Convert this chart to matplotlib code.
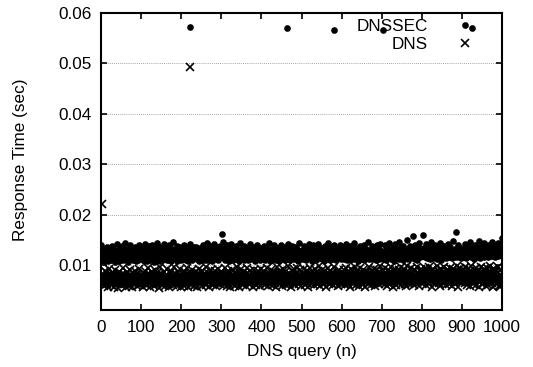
import matplotlib
matplotlib.use('Agg')
import matplotlib.pyplot as plt
import numpy as np

# ----------------------------------------------------
# DATA (response times, in units of 0.1 ms)
# ----------------------------------------------------
dnssec_raw = [
    140,121,115,126,112,118,131,109,123,117,127,113,120,136,111,124,119,108,129,116,122,114,133,118,110,125,120,138,115,121,112,127,117,106,123,130,114,119,141,111,125,118,113,128,120,109,134,116,122,126,112,119,137,115,124,110,121,129,117,113,143,120,126,111,118,132,123,107,116,127,114,121,139,119,112,125,130,117,110,122,128,115,120,135,113,124,118,109,131,121,116,126,111,140,119,123,114,128,117,120,
    118,125,112,133,121,109,127,116,142,120,113,124,119,131,108,122,126,114,137,117,121,111,129,123,115,140,118,112,126,120,107,133,119,124,113,128,116,121,144,110,125,118,130,114,122,117,136,109,127,120,115,123,132,119,112,126,118,141,121,113,128,116,124,110,134,120,117,125,111,139,122,115,127,119,108,131,124,116,120,145,113,126,118,122,130,114,121,117,138,109,125,120,113,128,116,123,135,119,111,126,
    121,115,130,118,124,112,139,120,116,127,110,123,119,133,114,126,121,108,129,117,124,113,142,120,118,125,111,131,122,116,128,119,136,114,121,126,117,136,112,124,119,130,115,122,109,127,118,134,121,113,125,120,116,140,123,111,128,117,122,131,114,126,119,143,110,124,120,115,129,118,137,112,123,121,116,127,109,132,119,125,114,122,141,117,128,113,120,126,118,135,111,123,119,130,115,124,121,138,116,127,
    128,162,119,145,121,114,126,118,133,110,124,120,116,139,122,113,127,119,108,131,125,117,121,142,114,126,120,111,135,118,123,129,115,121,117,138,112,125,119,124,130,116,122,109,127,120,144,113,126,118,121,132,115,124,119,137,111,128,122,116,125,120,134,113,127,118,110,129,123,117,141,121,114,126,119,131,112,124,120,136,116,122,127,109,130,118,125,113,121,139,117,124,120,115,128,111,133,122,118,126,
    119,124,113,130,121,116,138,110,125,120,127,114,122,118,135,112,126,121,117,143,123,109,128,119,124,115,131,120,113,126,118,140,122,116,129,111,124,120,134,117,127,121,114,125,108,132,119,123,116,139,121,113,128,120,125,118,136,111,124,122,115,130,119,127,113,142,120,117,126,122,110,133,118,125,121,116,138,114,123,129,119,112,127,120,135,117,124,121,115,131,109,126,118,122,144,113,128,120,116,125,
    123,117,130,112,126,121,137,115,124,119,128,110,122,133,118,125,114,141,120,127,116,123,119,131,108,126,121,115,139,122,117,128,113,124,120,135,111,127,119,123,116,142,121,114,129,118,125,120,134,112,126,122,117,130,109,124,119,138,115,127,121,113,132,120,125,118,144,116,123,128,111,126,120,136,114,122,119,129,117,125,140,113,121,127,118,133,110,124,120,116,131,122,126,115,139,119,123,112,128,121,
    117,126,120,135,113,124,119,129,115,122,141,118,127,111,125,120,133,116,123,128,110,137,121,119,126,114,130,122,117,143,112,125,120,128,118,134,115,124,121,109,131,126,119,123,138,116,127,113,122,120,136,117,125,129,111,124,140,118,121,126,114,132,119,123,127,116,145,120,113,125,122,130,117,128,119,137,112,124,121,115,129,123,118,134,126,110,122,139,120,116,127,124,113,131,119,125,142,117,121,128,
    124,118,131,113,126,120,139,116,123,127,111,125,134,119,122,115,128,121,143,117,124,112,130,120,126,118,136,114,123,129,109,125,121,141,117,127,119,132,122,115,126,120,146,113,124,128,118,135,121,116,127,110,123,138,119,125,122,131,114,126,120,149,117,124,128,112,133,121,119,125,137,115,122,127,118,130,124,120,158,116,123,126,113,139,121,118,129,125,111,134,122,119,127,144,116,124,120,131,118,126,
    121,127,160,118,125,133,116,124,129,120,142,114,126,122,137,119,128,117,124,131,112,126,121,145,118,123,129,115,134,122,120,127,140,116,125,121,130,113,124,128,119,136,122,117,126,143,120,125,111,131,123,118,128,121,138,116,124,127,120,133,115,126,122,129,119,141,124,117,127,121,135,118,125,130,114,123,128,120,147,117,126,122,131,119,124,165,121,128,116,125,139,120,127,122,133,118,126,129,115,124,
    126,120,131,117,128,123,142,119,125,129,114,127,122,136,120,126,118,132,124,121,145,116,128,125,119,134,122,127,113,130,124,120,139,117,126,129,121,135,118,125,123,148,120,127,115,131,124,122,137,119,128,126,121,143,117,125,130,120,127,133,118,124,129,122,140,116,126,128,121,135,119,125,131,123,146,118,127,124,120,138,122,129,117,126,133,121,128,125,144,119,127,130,123,137,120,126,132,124,141,153,
]

dns_raw = [
    74,69,71,78,65,81,72,58,76,70,88,67,73,79,63,84,71,56,75,68,93,72,66,80,74,61,77,70,85,64,73,57,79,69,75,90,67,72,82,63,76,71,55,74,68,87,73,65,78,70,60,83,72,67,95,74,69,77,62,80,71,56,75,68,86,73,64,79,70,58,76,72,91,66,74,81,69,57,77,71,84,63,75,68,89,72,65,78,70,59,82,74,67,76,92,61,73,79,69,75,
    72,66,80,75,57,84,70,77,63,88,73,68,79,61,74,71,94,67,76,82,64,72,56,78,70,86,69,75,62,81,73,58,77,71,90,66,74,79,63,85,72,68,76,55,80,70,97,65,73,78,60,83,71,69,75,87,64,77,72,58,81,74,67,92,70,76,62,79,73,57,84,69,75,71,89,65,78,72,61,80,74,68,96,70,77,63,82,73,59,75,86,67,71,79,64,93,72,76,56,74,
    78,70,65,83,72,58,76,88,69,74,62,81,71,95,67,77,73,57,80,70,85,64,75,79,61,72,90,68,76,74,59,82,71,67,87,73,63,78,70,56,84,75,69,92,72,77,62,80,66,74,71,89,58,76,73,68,83,70,64,79,75,96,61,72,78,67,85,71,57,74,81,69,76,91,63,73,79,70,60,84,72,66,77,88,74,71,59,80,68,75,93,64,73,78,70,62,82,76,86,69,
    71,77,64,85,73,60,79,70,94,67,75,72,58,82,69,76,88,63,74,80,71,56,78,66,73,90,69,81,75,62,77,72,86,59,74,70,83,65,76,97,71,68,79,73,57,84,70,75,92,64,78,72,61,80,69,87,74,66,76,71,59,83,73,95,67,77,70,62,81,75,89,68,72,78,64,74,71,57,85,69,76,91,63,79,73,70,60,82,75,67,88,72,77,65,80,71,58,74,93,69,
    76,70,83,64,74,89,68,79,72,61,77,71,94,66,75,80,58,73,69,85,72,63,78,74,91,67,71,82,60,76,73,87,65,79,70,56,84,72,75,96,68,77,62,81,71,74,89,66,78,70,59,83,73,76,93,64,72,79,69,86,61,75,71,80,67,77,98,70,74,63,82,72,57,78,69,88,75,65,80,71,92,73,60,77,68,84,74,70,95,66,79,72,62,81,75,90,69,76,58,73,
    70,79,66,84,73,92,68,76,61,81,72,75,89,64,78,70,57,83,74,69,95,71,77,63,80,73,87,67,75,60,82,71,78,93,65,74,70,86,62,79,72,76,98,68,73,81,59,77,70,90,66,84,74,71,63,80,75,88,69,72,78,56,83,73,94,67,76,71,62,81,74,89,65,78,70,85,72,60,77,75,96,68,73,82,64,79,71,87,70,76,58,83,72,91,67,74,80,63,77,73,
    75,68,83,72,90,64,78,71,60,81,74,95,67,77,70,86,62,79,73,57,84,71,76,92,66,80,72,88,63,75,78,69,97,73,61,82,70,77,89,65,74,79,59,83,72,76,94,68,71,85,63,78,74,91,67,80,70,56,82,75,87,69,73,79,62,84,71,77,96,66,74,81,60,78,72,88,68,75,70,93,64,80,73,58,83,71,76,90,67,79,72,85,62,77,74,98,69,73,81,65,
    72,80,66,88,74,70,95,63,78,71,84,59,76,73,91,68,81,70,62,86,75,77,97,65,73,79,57,83,71,89,67,76,74,93,61,80,72,85,69,78,71,64,90,75,82,68,96,73,60,79,70,87,66,77,74,92,63,81,72,58,84,76,70,99,67,78,73,86,62,80,71,94,69,75,83,65,88,72,77,60,81,74,91,68,76,70,97,64,79,73,85,59,82,71,89,67,78,75,93,70,
    77,71,86,65,79,73,94,68,82,70,60,84,75,90,66,78,72,97,63,80,74,88,69,76,71,57,83,73,92,67,79,75,85,62,81,70,99,68,77,74,89,64,82,72,59,86,76,93,70,78,73,87,65,80,71,96,67,84,75,61,79,72,91,69,77,83,63,88,74,70,95,66,81,73,86,58,78,71,92,68,80,76,89,64,83,72,98,70,77,74,56,85,69,79,94,66,81,73,87,71,
    74,82,68,90,72,78,96,64,80,71,86,61,77,73,93,67,83,70,58,88,75,79,99,66,74,81,62,85,72,91,69,78,76,95,60,82,73,87,68,79,71,57,89,75,84,67,97,72,80,63,86,74,77,92,65,81,70,88,59,78,73,94,69,83,71,61,87,76,79,98,66,74,82,64,90,72,78,56,85,70,93,68,80,75,88,62,77,73,96,67,84,71,59,81,74,91,69,58,76,62,
]

# slow queries far above the bands
dnssec_spike_n = [222, 465, 580, 703, 925]
dnssec_spike_ms = [573, 570, 566, 566, 570]
dns_spike_n = [2, 222]
dns_spike_ms = [221, 493]

x_ticks = [0, 100, 200, 300, 400, 500, 600, 700, 800, 900, 1000]
y_ticks = [0.01, 0.02, 0.03, 0.04, 0.05, 0.06]


def build_series(raw, spike_n, spike_val):
    y = np.array(raw, dtype=float)
    n = np.arange(1, len(y) + 1)
    for i, v in zip(spike_n, spike_val):
        if 1 <= i <= len(y):
            y[i - 1] = v
    return n, y / 10000.0


n_sec, y_sec = build_series(dnssec_raw, dnssec_spike_n, dnssec_spike_ms)
n_dns, y_dns = build_series(dns_raw, dns_spike_n, dns_spike_ms)

# ----------------------------------------------------
# PLOT
# ----------------------------------------------------
plt.rcParams['font.family'] = 'Liberation Sans'
plt.rcParams['font.size'] = 12.3

fig = plt.figure(figsize=(5.33, 3.67), dpi=100)
ax = fig.add_axes([101 / 533, 1 - 310 / 367, 401 / 533, 297 / 367])

ax.plot(n_sec, y_sec, linestyle='none', marker='o', ms=4.8, color='black',
        markeredgewidth=0, label='DNSSEC')
ax.plot(n_dns, y_dns, linestyle='none', marker='x', ms=5.5, color='black',
        markeredgewidth=1.2, label='DNS')

ax.set_xlim(0, 1000)
ax.set_ylim(0.0011, 0.06)
ax.set_xticks(x_ticks)
ax.set_yticks(y_ticks)
ax.set_yticklabels([f"{t:.2f}" for t in y_ticks])

ax.yaxis.grid(True, linestyle=(0, (1, 1.5)), color='#888888', linewidth=0.6)
ax.set_axisbelow(True)

for s in ax.spines.values():
    s.set_linewidth(1.5)
ax.tick_params(direction='in', top=True, right=True, length=4, width=1.2, pad=7)

ax.set_xlabel("DNS query (n)")
ax.set_ylabel("Response Time (sec)")
ax.xaxis.set_label_coords(0.5, -0.115)
ax.yaxis.set_label_coords(-0.182, 0.505)

# gnuplot-style key: label first, marker on the right
ax.legend(loc='upper right', frameon=False, markerfirst=False,
          handlelength=3.65, handletextpad=0.36, labelspacing=0.2,
          borderpad=0.2, borderaxespad=0.15, fontsize=12.3)

plt.savefig("out.png", dpi=100)
plt.close()
